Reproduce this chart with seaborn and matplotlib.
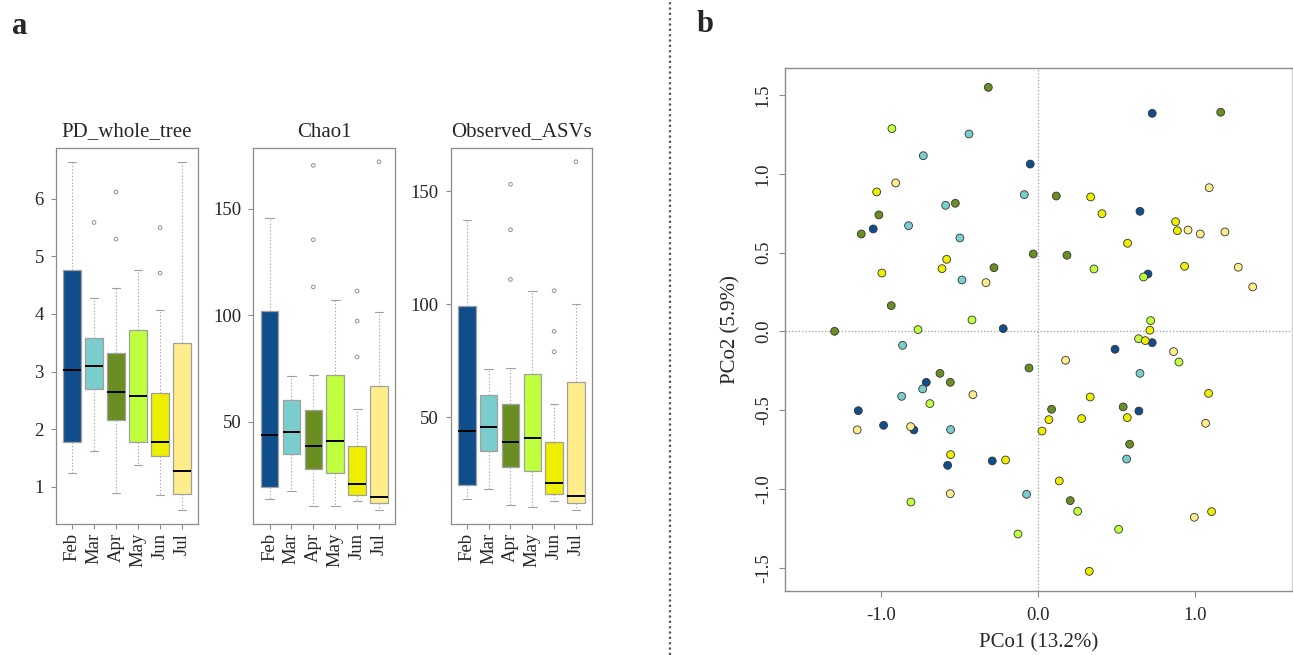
import numpy as np
import pandas as pd
import seaborn as sns
from matplotlib import pyplot as plt
from matplotlib.lines import Line2D


months = ['Feb', 'Mar', 'Apr', 'May', 'Jun', 'Jul']
month_colors = ['#104E8B', '#79CDCD', '#6B8E23', '#C0FF3E', '#EEEE00', '#FFEC8B']

# box summaries: low whisker, q1, median, q3, high whisker
pd_low = [1.23, 1.62, 0.89, 1.38, 0.86, 0.60]
pd_q1 = [1.77, 2.69, 2.16, 1.78, 1.54, 0.87]
pd_med = [3.03, 3.10, 2.65, 2.57, 1.78, 1.27]
pd_q3 = [4.77, 3.59, 3.32, 3.72, 2.63, 3.49]
pd_high = [6.65, 4.27, 4.46, 4.77, 4.07, 6.64]
pd_out_month = ['Mar', 'Apr', 'Apr', 'Jun', 'Jun']
pd_out = [5.59, 6.12, 5.30, 5.50, 4.71]

chao_low = [13.8, 17.7, 10.6, 10.6, 12.7, 8.6]
chao_q1 = [19.6, 34.9, 27.7, 25.8, 15.6, 11.7]
chao_med = [43.8, 45.4, 38.8, 40.8, 20.7, 14.9]
chao_q3 = [101.9, 60.4, 55.7, 72.1, 38.7, 66.8]
chao_high = [145.9, 71.4, 71.8, 107.2, 56.2, 101.6]
chao_out_month = ['Apr', 'Apr', 'Apr', 'Jun', 'Jun', 'Jun', 'Jul']
chao_out = [170.4, 135.5, 113.3, 111.4, 97.3, 80.4, 172.1]

asv_low = [13.9, 18.0, 10.9, 10.0, 13.0, 8.9]
asv_q1 = [19.9, 35.0, 27.9, 26.0, 15.9, 11.8]
asv_med = [43.8, 45.4, 38.9, 40.9, 20.9, 14.9]
asv_q3 = [99.3, 59.9, 55.8, 68.9, 38.9, 65.3]
asv_high = [137.0, 71.1, 71.8, 105.9, 55.9, 100.0]
asv_out_month = ['Apr', 'Apr', 'Apr', 'Jun', 'Jun', 'Jun', 'Jul']
asv_out = [153.0, 132.9, 110.9, 105.9, 87.9, 78.9, 163.0]

# PCoA scores
pc1_feb = [-0.051, -1.051, -0.223, 0.726, 0.648, 0.699, -0.713, -1.146, -0.985, -0.792, -0.577, -0.293, 0.726, 0.489, 0.641]
pc2_feb = [1.063, 0.651, 0.018, 1.385, 0.763, 0.365, -0.323, -0.503, -0.596, -0.625, -0.850, -0.822, -0.071, -0.113, -0.505]
pc1_mar = [-0.441, -0.732, -0.089, -0.590, -0.826, -0.499, -0.486, -0.864, -0.736, -0.870, -0.558, -0.074, 0.648, 0.563]
pc2_mar = [1.254, 1.116, 0.869, 0.801, 0.672, 0.594, 0.327, -0.088, -0.365, -0.412, -0.623, -1.034, -0.266, -0.810]
pc1_apr = [-0.318, -0.528, -1.015, -1.127, -0.032, -0.282, -0.936, -1.297, 1.162, 0.115, 0.183, -0.626, -0.560, -0.059, 0.085, 0.541, 0.582, 0.204]
pc2_apr = [1.550, 0.814, 0.740, 0.619, 0.492, 0.405, 0.164, 0.001, 1.392, 0.860, 0.484, -0.266, -0.323, -0.232, -0.494, -0.479, -0.716, -1.074]
pc1_may = [-0.932, -0.422, -0.766, 0.355, 0.671, 0.716, -0.690, -0.811, -0.129, 0.639, 0.896, 0.251, 0.512]
pc2_may = [1.288, 0.073, 0.012, 0.397, 0.346, 0.069, -0.458, -1.083, -1.286, -0.046, -0.194, -1.142, -1.256]
pc1_jun = [-1.029, -0.583, -0.613, -0.996, 0.334, 0.406, 0.875, 0.886, 0.569, 0.932, 0.711, -0.558, -0.208, 0.024,
           0.682, 1.085, 0.331, 0.068, 0.276, 0.567, 0.134, 1.104, 0.325]
pc2_jun = [0.886, 0.458, 0.399, 0.371, 0.854, 0.748, 0.697, 0.640, 0.560, 0.414, 0.008, -0.782, -0.816, -0.632,
           -0.058, -0.393, -0.416, -0.560, -0.553, -0.547, -0.949, -1.144, -1.523]
pc1_jul = [-0.908, -0.333, 1.089, 0.954, 1.032, 1.189, 1.274, 1.366, -0.416, -1.153, -0.813, -0.560, 0.862, 0.174, 1.066, 0.994]
pc2_jul = [0.943, 0.310, 0.913, 0.644, 0.619, 0.632, 0.408, 0.283, -0.401, -0.625, -0.604, -1.030, -0.128, -0.183, -0.583, -1.180]

SERIF = 'Liberation Serif'
GREY = '#8c8c8c'


def draw_box(ax, low, q1, med, q3, high, out_month, out_val, title, ylim, yticks):
    vals = np.column_stack([low, q1, med, q3, high]).ravel()
    df = pd.DataFrame({'month': np.repeat(months, 5), 'value': vals})

    sns.boxplot(data=df, x='month', y='value', hue='month', order=months, hue_order=months,
                palette=month_colors, saturation=1, legend=False, whis=(0, 100), width=0.8,
                showfliers=False, linecolor='#a0a0a0', linewidth=0.9,
                medianprops={'color': 'black', 'linewidth': 1.4},
                whiskerprops={'linestyle': (0, (1.2, 1.8)), 'color': '#a8a8a8', 'linewidth': 0.8},
                capprops={'color': '#a0a0a0', 'linewidth': 0.8},
                ax=ax)

    xpos = [months.index(m) for m in out_month]
    ax.scatter(xpos, out_val, s=7, facecolors='none', edgecolors='#909090', linewidths=0.7, zorder=4)

    ax.set_xlim(-0.74, 5.74)
    ax.set_ylim(*ylim)
    ax.set_yticks(yticks)
    ax.set_xlabel('')
    ax.set_ylabel('')
    ax.set_title(title, fontsize=15, family=SERIF, pad=8)
    ax.tick_params(axis='x', labelrotation=90, labelsize=13.5, length=3.5, pad=3, color=GREY)
    ax.tick_params(axis='y', labelsize=13.5, length=3.5, pad=5, color=GREY)
    for pos in ['top', 'bottom', 'left', 'right']:
        ax.spines[pos].set_visible(True)
        ax.spines[pos].set_color(GREY)
        ax.spines[pos].set_linewidth(0.9)


def plot_scatter(ax):
    pc1 = pc1_feb + pc1_mar + pc1_apr + pc1_may + pc1_jun + pc1_jul
    pc2 = pc2_feb + pc2_mar + pc2_apr + pc2_may + pc2_jun + pc2_jul
    groups = [pc1_feb, pc1_mar, pc1_apr, pc1_may, pc1_jun, pc1_jul]
    month = np.repeat(months, [len(g) for g in groups])
    sdf = pd.DataFrame({'pc1': pc1, 'pc2': pc2, 'month': month})

    ax.axhline(0, color='#9a9a9a', linestyle=':', linewidth=0.9, zorder=1)
    ax.axvline(0, color='#9a9a9a', linestyle=':', linewidth=0.9, zorder=1)

    sns.scatterplot(data=sdf, x='pc1', y='pc2', hue='month', hue_order=months, palette=month_colors,
                    s=32, edgecolor='#333333', linewidth=0.6, legend=False, ax=ax, zorder=3)

    ax.set_xlim(-1.613, 1.616)
    ax.set_ylim(-1.648, 1.673)
    ax.set_xticks([-1.0, 0.0, 1.0])
    ax.set_xticklabels(['-1.0', '0.0', '1.0'])
    ax.set_yticks([-1.5, -1.0, -0.5, 0.0, 0.5, 1.0, 1.5])
    ax.set_yticklabels(['-1.5', '-1.0', '-0.5', '0.0', '0.5', '1.0', '1.5'])
    ax.tick_params(axis='both', labelsize=13.5, length=4.5, color=GREY)
    ax.tick_params(axis='x', pad=7)
    ax.tick_params(axis='y', pad=5)
    for t in ax.get_yticklabels():
        t.set_rotation(90)
        t.set_va('center')
    ax.set_xlabel('PCo1 (13.2%)', fontsize=15, family=SERIF, labelpad=7)
    ax.set_ylabel('PCo2 (5.9%)', fontsize=15, family=SERIF, labelpad=10)
    for pos in ['top', 'bottom', 'left', 'right']:
        ax.spines[pos].set_visible(True)
        ax.spines[pos].set_color(GREY)
        ax.spines[pos].set_linewidth(1.0)
    ax.spines['right'].set_color('#cfcfcf')


def main():
    sns.set_style('ticks')
    plt.rcParams['font.family'] = [SERIF, 'DejaVu Serif']
    plt.rcParams['axes.unicode_minus'] = False

    fig = plt.figure(figsize=(12.93, 6.55), dpi=100)

    ax1 = fig.add_axes([0.0431, 0.2, 0.1103, 0.5745])
    ax2 = fig.add_axes([0.1959, 0.2, 0.1098, 0.5745])
    ax3 = fig.add_axes([0.3486, 0.2, 0.1093, 0.5745])
    ax4 = fig.add_axes([0.6071, 0.0977, 0.3921, 0.7985])

    draw_box(ax1, pd_low, pd_q1, pd_med, pd_q3, pd_high, pd_out_month, pd_out,
             'PD_whole_tree', (0.35, 6.89), [1, 2, 3, 4, 5, 6])
    draw_box(ax2, chao_low, chao_q1, chao_med, chao_q3, chao_high, chao_out_month, chao_out,
             'Chao1', (2.0, 178.7), [50, 100, 150])
    draw_box(ax3, asv_low, asv_q1, asv_med, asv_q3, asv_high, asv_out_month, asv_out,
             'Observed_ASVs', (2.65, 169.2), [50, 100, 150])
    plot_scatter(ax4)

    fig.add_artist(Line2D([0.5182, 0.5182], [0, 1], transform=fig.transFigure,
                          linestyle=(0, (1, 1.4)), color='#555555', linewidth=1.6))
    fig.text(0.0093, 1 - 26 / 655, 'a', fontsize=22, fontweight='bold', va='center', ha='left')
    fig.text(0.5388, 1 - 25 / 655, 'b', fontsize=22, fontweight='bold', va='center', ha='left')

    fig.savefig('out.png', dpi=100)


if __name__ == '__main__':
    main()
